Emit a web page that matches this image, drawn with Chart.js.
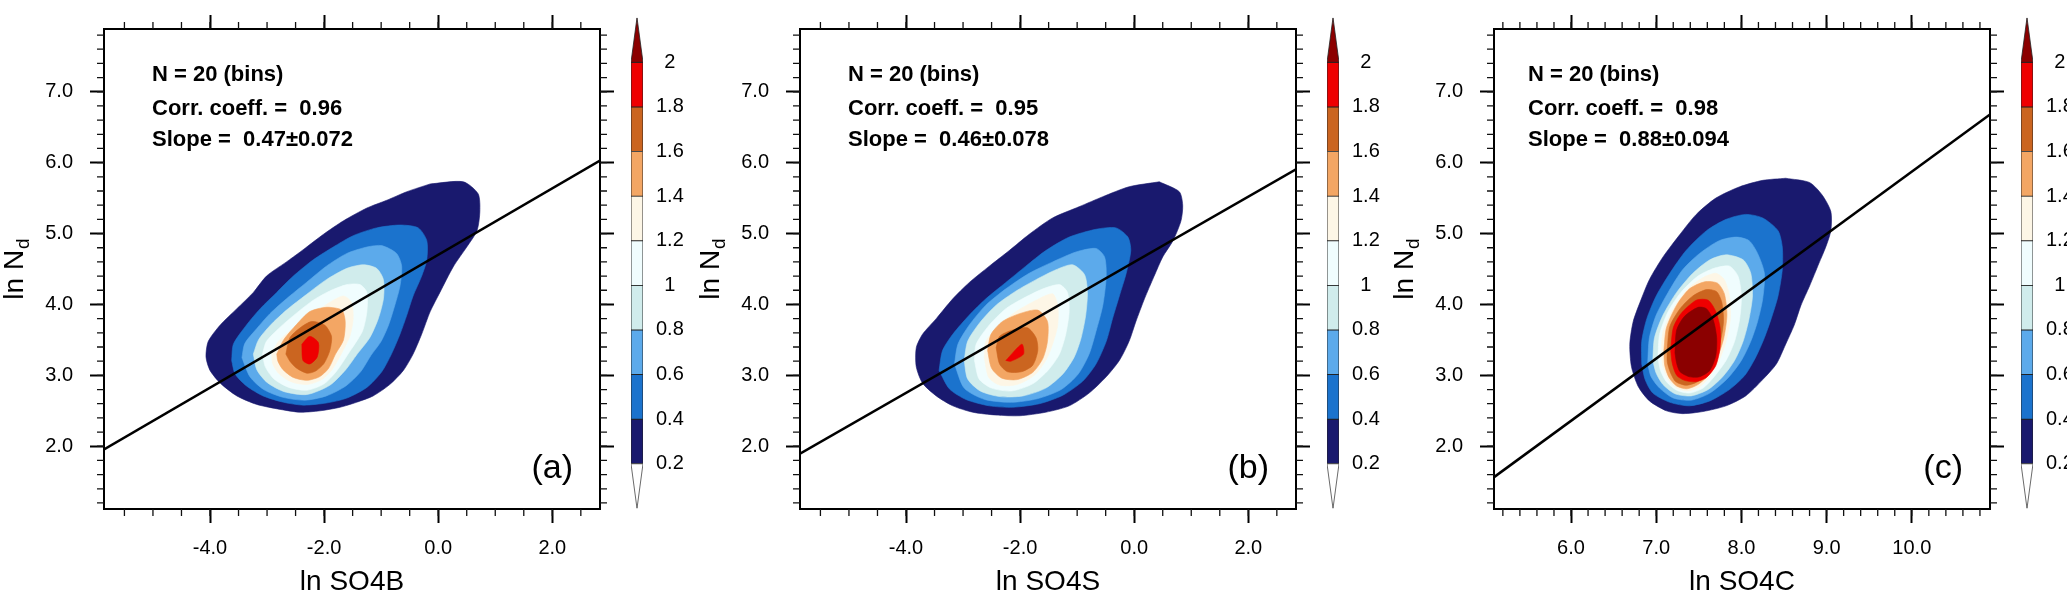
<!DOCTYPE html>
<html>
<head>
<meta charset="utf-8">
<script src="https://cdn.jsdelivr.net/npm/chart.js@4.4.1/dist/chart.umd.min.js"></script>
<style>
html, body { margin: 0; padding: 0; background: #fff; }
#wrap { position: relative; width: 2067px; height: 599px; overflow: hidden; }
#wrap canvas { position: absolute; top: 0; }
</style>
</head>
<body>
<div id="wrap">
  <canvas id="pa" width="625" height="599" style="left:0px"></canvas>
  <canvas id="ca" width="80" height="599" style="left:620px"></canvas>
  <canvas id="pb" width="625" height="599" style="left:696px"></canvas>
  <canvas id="cb" width="80" height="599" style="left:1316px"></canvas>
  <canvas id="pc" width="625" height="599" style="left:1390px"></canvas>
  <canvas id="cc" width="80" height="599" style="left:2010px"></canvas>
</div>
<script>
// ---------- axes ----------
const xTicksAB = [-4, -2, 0, 2];
const xTicksC = [6, 7, 8, 9, 10];
const yTicks = [2, 3, 4, 5, 6, 7];

// ---------- contour levels (colour bar) ----------
const cbLevels = [0.2, 0.4, 0.6, 0.8, 1, 1.2, 1.4, 1.6, 1.8, 2];
const levelColors = ['#19196e', '#1b73cd', '#5caaeb', '#d0ecec', '#f0fdfe',
                     '#fdf6e6', '#f3a664', '#cb6520', '#ee0000', '#8b0000'];
const topTri = [[0, 2], [0.5, 2.2], [1, 2]];
const botTri = [[0, 0.2], [0.5, 0], [1, 0.2]];

// ---------- (a) ln SO4B : contour outlines, one per level ----------
const a02 = [[-0.14,5.70],[0.44,5.73],[0.70,5.56],[0.73,5.31],[0.68,5.04],[0.50,4.81],[0.27,4.54],[0.03,4.17],[-0.14,3.90],[-0.29,3.58],[-0.44,3.30],[-0.61,3.07],[-0.85,2.87],[-1.14,2.71],[-1.43,2.62],[-1.72,2.55],[-2.07,2.50],[-2.42,2.48],[-2.77,2.52],[-3.18,2.59],[-3.53,2.71],[-3.82,2.89],[-4.00,3.07],[-4.07,3.26],[-4.03,3.48],[-3.82,3.71],[-3.53,3.94],[-3.24,4.17],[-3.01,4.40],[-2.66,4.60],[-2.42,4.74],[-2.01,4.99],[-1.66,5.18],[-1.25,5.36],[-0.90,5.47],[-0.55,5.59]];
const a04 = [[-3.62,3.21],[-3.59,3.44],[-3.36,3.71],[-3.12,3.94],[-2.83,4.17],[-2.54,4.40],[-2.19,4.63],[-1.84,4.81],[-1.49,4.97],[-1.08,5.08],[-0.67,5.12],[-0.35,5.08],[-0.20,4.90],[-0.20,4.63],[-0.29,4.40],[-0.44,4.12],[-0.55,3.85],[-0.67,3.58],[-0.82,3.30],[-0.99,3.05],[-1.25,2.83],[-1.60,2.68],[-1.96,2.61],[-2.36,2.58],[-2.71,2.62],[-3.07,2.71],[-3.36,2.85],[-3.56,3.02]];
const a06 = [[-3.44,3.25],[-3.39,3.45],[-3.18,3.66],[-2.95,3.87],[-2.66,4.08],[-2.31,4.31],[-1.96,4.54],[-1.60,4.72],[-1.25,4.81],[-0.99,4.83],[-0.73,4.72],[-0.64,4.54],[-0.67,4.26],[-0.76,3.99],[-0.87,3.71],[-1.00,3.48],[-1.18,3.28],[-1.36,3.05],[-1.62,2.85],[-1.96,2.71],[-2.33,2.65],[-2.72,2.69],[-3.06,2.80],[-3.30,2.98]];
const a08 = [[-3.24,3.30],[-3.15,3.50],[-2.95,3.70],[-2.66,3.92],[-2.31,4.14],[-1.96,4.35],[-1.60,4.51],[-1.31,4.56],[-1.08,4.51],[-0.96,4.35],[-0.96,4.08],[-1.05,3.80],[-1.20,3.53],[-1.42,3.30],[-1.62,3.08],[-1.90,2.86],[-2.30,2.73],[-2.70,2.77],[-3.00,2.90],[-3.18,3.08]];
const a10 = [[-3.08,3.30],[-3.01,3.48],[-2.77,3.68],[-2.48,3.88],[-2.19,4.06],[-1.90,4.19],[-1.60,4.28],[-1.37,4.28],[-1.25,4.17],[-1.25,3.90],[-1.33,3.62],[-1.58,3.30],[-1.78,3.06],[-2.00,2.88],[-2.30,2.79],[-2.62,2.83],[-2.88,2.95],[-3.03,3.12]];
const a12 = [[-2.92,3.30],[-2.80,3.48],[-2.52,3.68],[-2.19,3.87],[-1.90,4.03],[-1.66,4.12],[-1.52,4.03],[-1.49,3.80],[-1.55,3.55],[-1.70,3.30],[-1.86,3.08],[-2.04,2.94],[-2.30,2.87],[-2.58,2.91],[-2.80,3.03],[-2.90,3.16]];
const a14 = [[-2.83,3.30],[-2.71,3.50],[-2.48,3.72],[-2.25,3.90],[-1.96,3.96],[-1.69,3.92],[-1.63,3.76],[-1.66,3.50],[-1.80,3.30],[-1.92,3.10],[-2.08,2.98],[-2.30,2.93],[-2.54,2.97],[-2.72,3.08],[-2.81,3.20]];
const a16 = [[-2.67,3.30],[-2.60,3.53],[-2.42,3.67],[-2.22,3.76],[-1.99,3.71],[-1.87,3.55],[-1.90,3.35],[-2.00,3.17],[-2.15,3.06],[-2.30,3.03],[-2.48,3.10],[-2.60,3.20]];
const a18 = [[-2.39,3.44],[-2.25,3.55],[-2.10,3.46],[-2.12,3.26],[-2.25,3.16],[-2.37,3.21]];
const fitA = [[-5.858, 1.955], [2.836, 6.03]];
const statsA = ['N = 20 (bins)', 'Corr. coeff. =  0.96', 'Slope =  0.47\u00b10.072'];

// ---------- (b) ln SO4S ----------
const b02 = [[0.44,5.73],[0.79,5.59],[0.85,5.40],[0.82,5.18],[0.68,4.90],[0.50,4.67],[0.35,4.40],[0.18,4.08],[0.03,3.76],[-0.09,3.48],[-0.26,3.21],[-0.49,2.98],[-0.79,2.75],[-1.14,2.57],[-1.55,2.48],[-2.01,2.43],[-2.42,2.44],[-2.83,2.48],[-3.18,2.57],[-3.47,2.71],[-3.71,2.89],[-3.82,3.12],[-3.82,3.39],[-3.71,3.58],[-3.47,3.80],[-3.18,4.08],[-2.89,4.31],[-2.54,4.54],[-2.19,4.76],[-1.84,4.99],[-1.43,5.22],[-0.96,5.38],[-0.55,5.52],[-0.09,5.66]];
const b04 = [[-3.42,3.07],[-3.36,3.35],[-3.18,3.58],[-2.89,3.85],[-2.60,4.08],[-2.25,4.31],[-1.90,4.54],[-1.55,4.76],[-1.14,4.95],[-0.67,5.06],[-0.32,5.08],[-0.11,4.95],[-0.06,4.76],[-0.14,4.44],[-0.26,4.12],[-0.38,3.80],[-0.49,3.48],[-0.67,3.16],[-0.90,2.92],[-1.25,2.72],[-1.66,2.60],[-2.13,2.55],[-2.54,2.57],[-2.95,2.66],[-3.24,2.81]];
const b06 = [[-3.15,3.16],[-3.09,3.44],[-2.89,3.71],[-2.60,3.99],[-2.25,4.22],[-1.84,4.44],[-1.43,4.60],[-1.02,4.74],[-0.67,4.79],[-0.52,4.67],[-0.49,4.40],[-0.55,3.99],[-0.67,3.62],[-0.79,3.30],[-0.98,3.02],[-1.28,2.80],[-1.70,2.67],[-2.15,2.62],[-2.62,2.66],[-2.98,2.82]];
const b08 = [[-2.98,3.21],[-2.92,3.48],[-2.71,3.74],[-2.42,3.99],[-2.07,4.19],[-1.72,4.35],[-1.37,4.49],[-1.08,4.56],[-0.87,4.42],[-0.82,4.17],[-0.85,3.85],[-0.93,3.53],[-1.05,3.26],[-1.25,3.02],[-1.55,2.82],[-1.95,2.71],[-2.35,2.70],[-2.70,2.78],[-2.92,2.95]];
const b10 = [[-2.80,3.21],[-2.77,3.44],[-2.54,3.71],[-2.25,3.94],[-1.96,4.08],[-1.60,4.22],[-1.31,4.28],[-1.17,4.17],[-1.14,3.90],[-1.20,3.58],[-1.31,3.30],[-1.50,3.08],[-1.78,2.88],[-2.15,2.78],[-2.50,2.82],[-2.72,2.95]];
const b12 = [[-2.63,3.26],[-2.60,3.48],[-2.36,3.71],[-2.07,3.90],[-1.72,4.06],[-1.43,4.15],[-1.34,3.99],[-1.34,3.71],[-1.43,3.44],[-1.55,3.21],[-1.75,3.00],[-2.05,2.87],[-2.35,2.86],[-2.55,2.97]];
const b14 = [[-2.57,3.35],[-2.51,3.58],[-2.31,3.76],[-2.01,3.87],[-1.69,3.92],[-1.52,3.76],[-1.52,3.48],[-1.60,3.24],[-1.78,3.04],[-2.05,2.94],[-2.32,2.96],[-2.50,3.10]];
const b16 = [[-2.42,3.39],[-2.36,3.55],[-2.13,3.64],[-1.87,3.67],[-1.72,3.53],[-1.69,3.35],[-1.78,3.14],[-1.98,3.05],[-2.22,3.05],[-2.36,3.16]];
const b18 = [[-2.25,3.21],[-1.97,3.44],[-1.94,3.30],[-2.16,3.20]];
const fitB = [[-5.858, 1.895], [2.836, 5.906]];
const statsB = ['N = 20 (bins)', 'Corr. coeff. =  0.95', 'Slope =  0.46\u00b10.078'];

// ---------- (c) ln SO4C ----------
const c02 = [[8.52,5.78],[8.80,5.72],[8.95,5.54],[9.05,5.31],[9.05,5.04],[8.99,4.81],[8.91,4.58],[8.80,4.26],[8.70,3.99],[8.62,3.71],[8.52,3.44],[8.41,3.16],[8.25,2.94],[8.05,2.71],[7.82,2.57],[7.55,2.49],[7.31,2.46],[7.12,2.50],[6.92,2.64],[6.79,2.84],[6.71,3.12],[6.69,3.44],[6.73,3.76],[6.81,4.03],[6.92,4.35],[7.08,4.67],[7.28,4.99],[7.47,5.27],[7.70,5.50],[7.98,5.66],[8.25,5.75]];
const c04 = [[6.83,3.16],[6.83,3.48],[6.89,3.80],[7.00,4.12],[7.16,4.44],[7.35,4.76],[7.59,5.04],[7.82,5.20],[8.05,5.27],[8.25,5.22],[8.43,5.04],[8.48,4.81],[8.48,4.49],[8.43,4.12],[8.35,3.80],[8.27,3.53],[8.17,3.26],[8.04,3.00],[7.86,2.80],[7.63,2.64],[7.39,2.57],[7.16,2.62],[6.96,2.75],[6.87,2.94]];
const c06 = [[6.90,3.16],[6.92,3.53],[7.00,3.85],[7.14,4.17],[7.31,4.49],[7.51,4.72],[7.74,4.90],[7.94,4.95],[8.09,4.90],[8.19,4.72],[8.27,4.44],[8.25,4.08],[8.19,3.76],[8.11,3.48],[8.00,3.21],[7.84,2.96],[7.63,2.75],[7.41,2.65],[7.20,2.68],[7.04,2.82],[6.94,2.98]];
const c08 = [[6.96,3.21],[6.98,3.53],[7.08,3.85],[7.24,4.17],[7.43,4.44],[7.63,4.63],[7.82,4.70],[8.02,4.63],[8.11,4.44],[8.13,4.12],[8.09,3.80],[8.02,3.48],[7.92,3.21],[7.78,2.98],[7.61,2.80],[7.41,2.71],[7.22,2.74],[7.08,2.87],[7.00,3.03]];
const c10 = [[7.02,3.26],[7.04,3.58],[7.14,3.90],[7.29,4.17],[7.49,4.40],[7.68,4.51],[7.86,4.54],[7.96,4.40],[8.00,4.12],[7.98,3.80],[7.92,3.48],[7.82,3.21],[7.68,2.98],[7.55,2.82],[7.39,2.75],[7.24,2.79],[7.12,2.91],[7.05,3.07]];
const c12 = [[7.06,3.30],[7.08,3.62],[7.20,3.94],[7.37,4.22],[7.55,4.38],[7.70,4.44],[7.80,4.35],[7.86,4.12],[7.87,3.80],[7.82,3.48],[7.74,3.21],[7.63,2.98],[7.51,2.84],[7.37,2.78],[7.24,2.82],[7.14,2.94],[7.08,3.12]];
const c14 = [[7.09,3.35],[7.12,3.67],[7.24,3.99],[7.39,4.22],[7.57,4.32],[7.72,4.30],[7.80,4.15],[7.83,3.85],[7.79,3.51],[7.71,3.23],[7.61,3.00],[7.49,2.87],[7.36,2.81],[7.24,2.85],[7.15,2.97],[7.10,3.14]];
const c16 = [[7.13,3.37],[7.16,3.69],[7.28,3.94],[7.43,4.12],[7.59,4.21],[7.71,4.18],[7.77,4.03],[7.79,3.76],[7.75,3.46],[7.68,3.21],[7.59,3.00],[7.47,2.90],[7.35,2.86],[7.23,2.91],[7.17,3.03],[7.13,3.19]];
const c18 = [[7.17,3.35],[7.20,3.67],[7.29,3.87],[7.47,4.06],[7.61,4.06],[7.70,3.90],[7.75,3.67],[7.75,3.39],[7.70,3.14],[7.59,2.97],[7.46,2.91],[7.33,2.93],[7.24,3.00],[7.19,3.16]];
const c20 = [[7.22,3.32],[7.24,3.64],[7.33,3.83],[7.49,3.96],[7.59,3.94],[7.67,3.78],[7.71,3.53],[7.70,3.28],[7.63,3.07],[7.51,2.98],[7.39,2.98],[7.28,3.05],[7.24,3.17]];
const fitC = [[5.096, 1.565], [10.918, 6.68]];
const statsC = ['N = 20 (bins)', 'Corr. coeff. =  0.98', 'Slope =  0.88\u00b10.094'];


Chart.defaults.font.family = "'Liberation Sans', Arial, Helvetica, sans-serif";
Chart.defaults.color = '#000';
const FAM = "'Liberation Sans', Arial, Helvetica, sans-serif";

const pts = arr => arr.map(p => ({x: p[0], y: p[1]}));

// minor ticks, y title with subscript, statistics text and panel tag
const decor = {
  id: 'decor',
  afterDraw(chart, args, o) {
    const {ctx, chartArea: a, scales} = chart;
    const sx = scales.x, sy = scales.y;
    ctx.save();
    ctx.strokeStyle = '#111';
    ctx.lineWidth = 1.3;
    ctx.beginPath();
    for (let k = Math.ceil(sx.min / o.minorX); k * o.minorX <= sx.max; k++) {
      const px = sx.getPixelForValue(k * o.minorX);
      ctx.moveTo(px, a.bottom); ctx.lineTo(px, a.bottom + 7);
      ctx.moveTo(px, a.top); ctx.lineTo(px, a.top - 7);
    }
    for (let k = Math.ceil(sy.min / o.minorY); k * o.minorY <= sy.max; k++) {
      const py = sy.getPixelForValue(k * o.minorY);
      ctx.moveTo(a.left, py); ctx.lineTo(a.left - 7, py);
      ctx.moveTo(a.right, py); ctx.lineTo(a.right + 7, py);
    }
    ctx.stroke();

    // y title "ln N" with subscript d
    ctx.fillStyle = '#000';
    ctx.translate(a.left - 81, (a.top + a.bottom) / 2);
    ctx.rotate(-Math.PI / 2);
    ctx.font = '28px ' + FAM;
    const w1 = ctx.measureText('ln N').width;
    ctx.font = '19px ' + FAM;
    const w2 = ctx.measureText('d').width;
    const x0 = -(w1 + w2 + 1) / 2;
    ctx.textBaseline = 'alphabetic';
    ctx.font = '28px ' + FAM;
    ctx.fillText('ln N', x0, 0);
    ctx.font = '19px ' + FAM;
    ctx.fillText('d', x0 + w1 + 1, 6);
    ctx.setTransform(1, 0, 0, 1, 0, 0);

    // statistics
    ctx.font = 'bold 22px ' + FAM;
    ctx.textAlign = 'left';
    const base = [52, 86, 117];
    o.stats.forEach((s, i) => ctx.fillText(s, a.left + o.statsDx, a.top + base[i]));

    // panel tag
    ctx.font = '34px ' + FAM;
    ctx.textAlign = 'right';
    ctx.fillText(o.tag, a.right - 27, a.bottom - 31);
    ctx.restore();
  }
};

function panel(id, polys, fit, xMin, xMax, xTicks, minorX, xTitle, stats, statsDx, tag) {
  const sets = polys.map((p, i) => ({
    data: pts(p.concat([p[0]])),
    showLine: true,
    fill: 'shape',
    tension: 0.25,
    backgroundColor: levelColors[i],
    borderColor: levelColors[i],
    borderWidth: 0.6,
    pointRadius: 0,
    order: 100 - i
  }));
  sets.push({
    data: pts(fit), showLine: true, fill: false,
    borderColor: '#000', borderWidth: 2.6, pointRadius: 0, order: 0
  });

  const major = {drawOnChartArea: false, tickLength: 14, tickWidth: 2, tickColor: '#000'};
  const edge = {display: true, color: '#000', width: 2};
  const fix = v => Number(v).toFixed(1);
  const yMin = 1.115, yMax = 7.885;

  return new Chart(document.getElementById(id), {
    type: 'scatter',
    data: {datasets: sets},
    plugins: [decor],
    options: {
      responsive: false,
      animation: false,
      events: [],
      layout: {padding: 0},
      plugins: {
        legend: {display: false},
        tooltip: {enabled: false},
        decor: {minorX: minorX, minorY: 0.2, stats: stats, statsDx: statsDx, tag: tag}
      },
      scales: {
        x: {
          type: 'linear', position: 'bottom', min: xMin, max: xMax,
          afterBuildTicks: s => { s.ticks = xTicks.map(v => ({value: v})); },
          afterFit: s => { s.height = 90; },
          ticks: {font: {size: 20}, padding: 13, autoSkip: false, maxRotation: 0, callback: fix},
          grid: major, border: edge,
          title: {display: true, text: xTitle, font: {size: 28}, padding: 0}
        },
        x2: {
          type: 'linear', position: 'top', min: xMin, max: xMax,
          afterBuildTicks: s => { s.ticks = xTicks.map(v => ({value: v})); },
          afterFit: s => { s.height = 16; },
          ticks: {display: false},
          grid: major, border: edge
        },
        y: {
          type: 'linear', position: 'left', min: yMin, max: yMax,
          afterBuildTicks: s => { s.ticks = yTicks.map(v => ({value: v})); },
          afterFit: s => { s.width = 104; },
          ticks: {font: {size: 20}, padding: 17, autoSkip: false, callback: fix},
          grid: major, border: edge
        },
        y2: {
          type: 'linear', position: 'right', min: yMin, max: yMax,
          afterBuildTicks: s => { s.ticks = yTicks.map(v => ({value: v})); },
          afterFit: s => { s.width = 25; },
          ticks: {display: false},
          grid: major, border: edge
        }
      }
    }
  });
}

function colorbar(id) {
  const boxes = cbLevels.slice(0, -1).map((lo, i) => ({x: 0.5, y: [lo, cbLevels[i + 1]]}));
  return new Chart(document.getElementById(id), {
    type: 'bar',
    data: {
      datasets: [
        {
          type: 'bar', data: boxes,
          backgroundColor: levelColors.slice(0, 9),
          borderColor: '#222', borderWidth: 0.8, borderSkipped: false,
          barPercentage: 1, categoryPercentage: 1, order: 2
        },
        {
          type: 'scatter', data: pts(topTri.concat([topTri[0]])), showLine: true, fill: 'shape',
          backgroundColor: levelColors[9], borderColor: '#222', borderWidth: 0.8,
          pointRadius: 0, order: 1
        },
        {
          type: 'scatter', data: pts(botTri.concat([botTri[0]])), showLine: true, fill: 'shape',
          backgroundColor: '#fff', borderColor: '#444', borderWidth: 0.8,
          pointRadius: 0, order: 1
        }
      ]
    },
    options: {
      responsive: false,
      animation: false,
      events: [],
      layout: {padding: {left: 11, right: 0, top: 17.7, bottom: 90.6}},
      plugins: {legend: {display: false}, tooltip: {enabled: false}},
      scales: {
        x: {
          type: 'linear', min: 0, max: 1, offset: false, display: false,
          afterBuildTicks: s => { s.ticks = [{value: 0}, {value: 1}]; }
        },
        y: {
          type: 'linear', position: 'right', min: 0, max: 2.2,
          afterBuildTicks: s => { s.ticks = cbLevels.map(v => ({value: v})); },
          afterFit: s => { s.width = 57; },
          ticks: {font: {size: 20}, padding: 5, crossAlign: 'center', autoSkip: false, callback: v => String(v)},
          grid: {display: false},
          border: {display: false}
        }
      }
    }
  });
}

panel('pa', [a02, a04, a06, a08, a10, a12, a14, a16, a18], fitA,
      -5.858, 2.836, xTicksAB, 0.5, 'ln SO4B', statsA, 48, '(a)');
panel('pb', [b02, b04, b06, b08, b10, b12, b14, b16, b18], fitB,
      -5.858, 2.836, xTicksAB, 0.5, 'ln SO4S', statsB, 48, '(b)');
panel('pc', [c02, c04, c06, c08, c10, c12, c14, c16, c18, c20], fitC,
      5.096, 10.918, xTicksC, 0.2, 'ln SO4C', statsC, 34, '(c)');
colorbar('ca');
colorbar('cb');
colorbar('cc');
</script>
</body>
</html>
